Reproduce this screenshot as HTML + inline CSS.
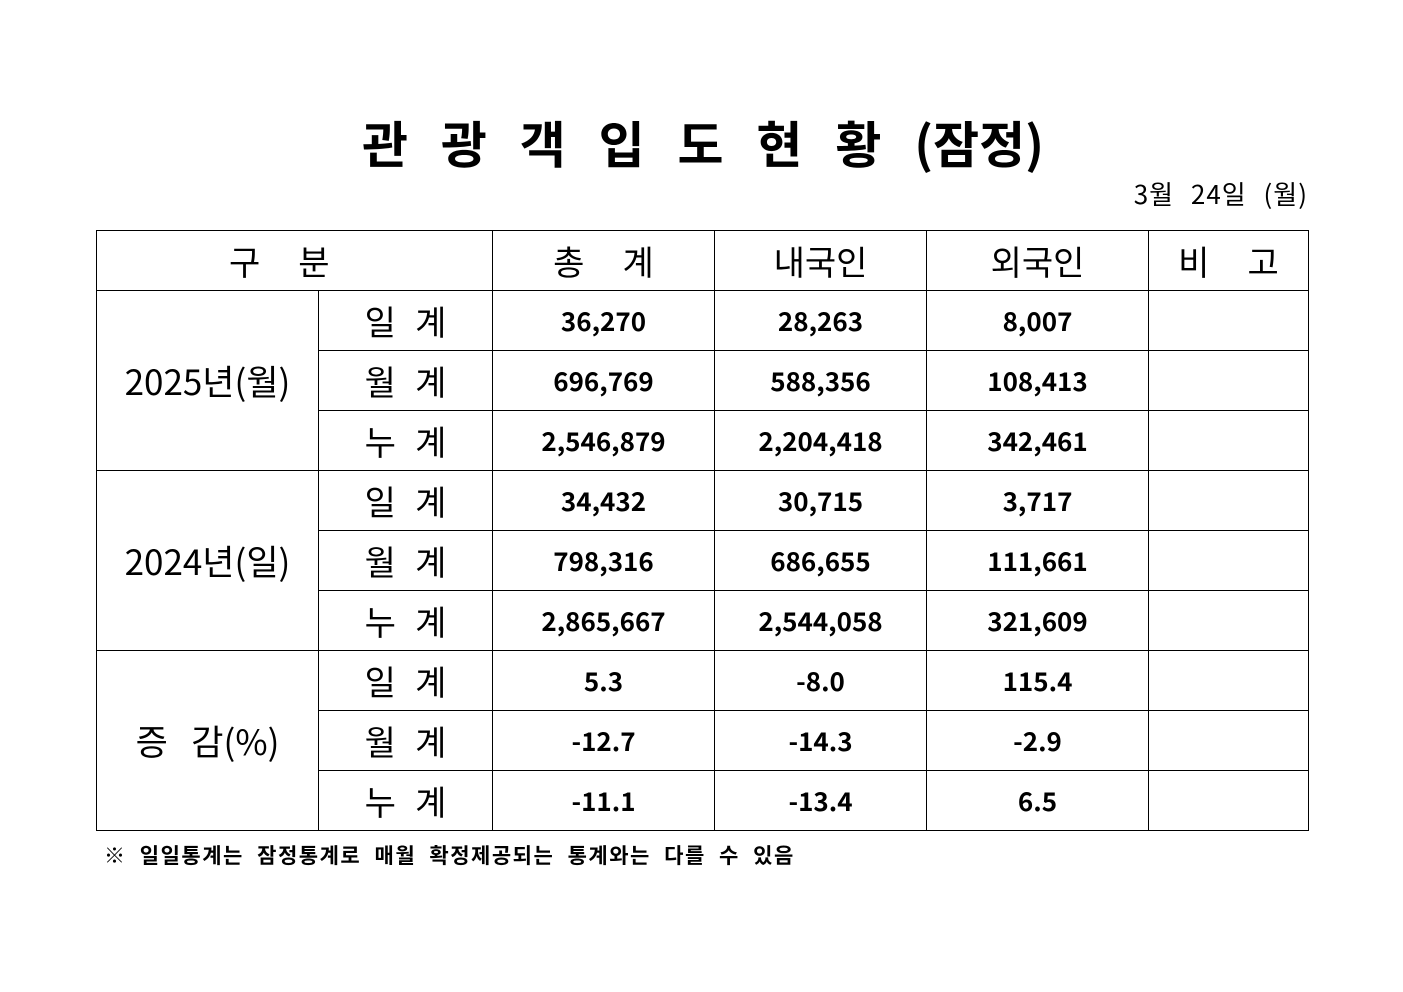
<!DOCTYPE html>
<html><head><meta charset="utf-8"><style>
body{margin:0;width:1403px;height:992px;background:#fff;position:relative;font-family:"Noto Sans CJK KR","Liberation Sans",sans-serif;color:#000;overflow:hidden}
.title{position:absolute;left:362px;top:104px;width:682px;font-size:50px;font-weight:bold;white-space:nowrap;line-height:76px;text-align:justify;text-align-last:justify}
.date{position:absolute;right:95px;top:174px;font-size:26px;line-height:40px;word-spacing:10px;letter-spacing:1px}
table{position:absolute;left:96px;top:230px;border-collapse:collapse;table-layout:fixed}
td{border:1.3px solid #000;height:59px;padding:0;text-align:center;vertical-align:middle;line-height:40px}
.h{font-size:34px}
.l{font-size:35px}
.s{font-size:34px;word-spacing:2px}
.n{font-size:26px;font-weight:bold}
.note{position:absolute;left:104px;top:839px;font-size:21px;font-weight:bold;white-space:nowrap;word-spacing:7px;letter-spacing:1.5px;line-height:32px}
</style></head><body>
<div class="title">관 광 객 입 도 현 황 (잠정)</div>
<div class="date">3월 24일 (월)</div>
<table>
<colgroup><col style="width:222px"><col style="width:174px"><col style="width:222px"><col style="width:212px"><col style="width:222px"><col style="width:160px"></colgroup>
<tr><td class="h" colspan="2">구&nbsp;&nbsp;&nbsp;&nbsp;&nbsp;분&nbsp;&nbsp;&nbsp;&nbsp;</td><td class="h">총&nbsp;&nbsp;&nbsp;&nbsp;&nbsp;계</td><td class="h">내국인</td><td class="h">외국인</td><td class="h">비&nbsp;&nbsp;&nbsp;&nbsp;&nbsp;고</td></tr>
<tr><td class="l" rowspan="3">2025년(월)</td><td class="s">일&nbsp;&nbsp;계</td><td class="n">36,270</td><td class="n">28,263</td><td class="n">8,007</td><td></td></tr>
<tr><td class="s">월&nbsp;&nbsp;계</td><td class="n">696,769</td><td class="n">588,356</td><td class="n">108,413</td><td></td></tr>
<tr><td class="s">누&nbsp;&nbsp;계</td><td class="n">2,546,879</td><td class="n">2,204,418</td><td class="n">342,461</td><td></td></tr>
<tr><td class="l" rowspan="3">2024년(일)</td><td class="s">일&nbsp;&nbsp;계</td><td class="n">34,432</td><td class="n">30,715</td><td class="n">3,717</td><td></td></tr>
<tr><td class="s">월&nbsp;&nbsp;계</td><td class="n">798,316</td><td class="n">686,655</td><td class="n">111,661</td><td></td></tr>
<tr><td class="s">누&nbsp;&nbsp;계</td><td class="n">2,865,667</td><td class="n">2,544,058</td><td class="n">321,609</td><td></td></tr>
<tr><td class="l" rowspan="3">증&nbsp;&nbsp;&nbsp;감(%)</td><td class="s">일&nbsp;&nbsp;계</td><td class="n">5.3</td><td class="n">-8.0</td><td class="n">115.4</td><td></td></tr>
<tr><td class="s">월&nbsp;&nbsp;계</td><td class="n">-12.7</td><td class="n">-14.3</td><td class="n">-2.9</td><td></td></tr>
<tr><td class="s">누&nbsp;&nbsp;계</td><td class="n">-11.1</td><td class="n">-13.4</td><td class="n">6.5</td><td></td></tr>
</table>
<div class="note">※ 일일통계는 잠정통계로 매월 확정제공되는 통계와는 다를 수 있음</div>
</body></html>
